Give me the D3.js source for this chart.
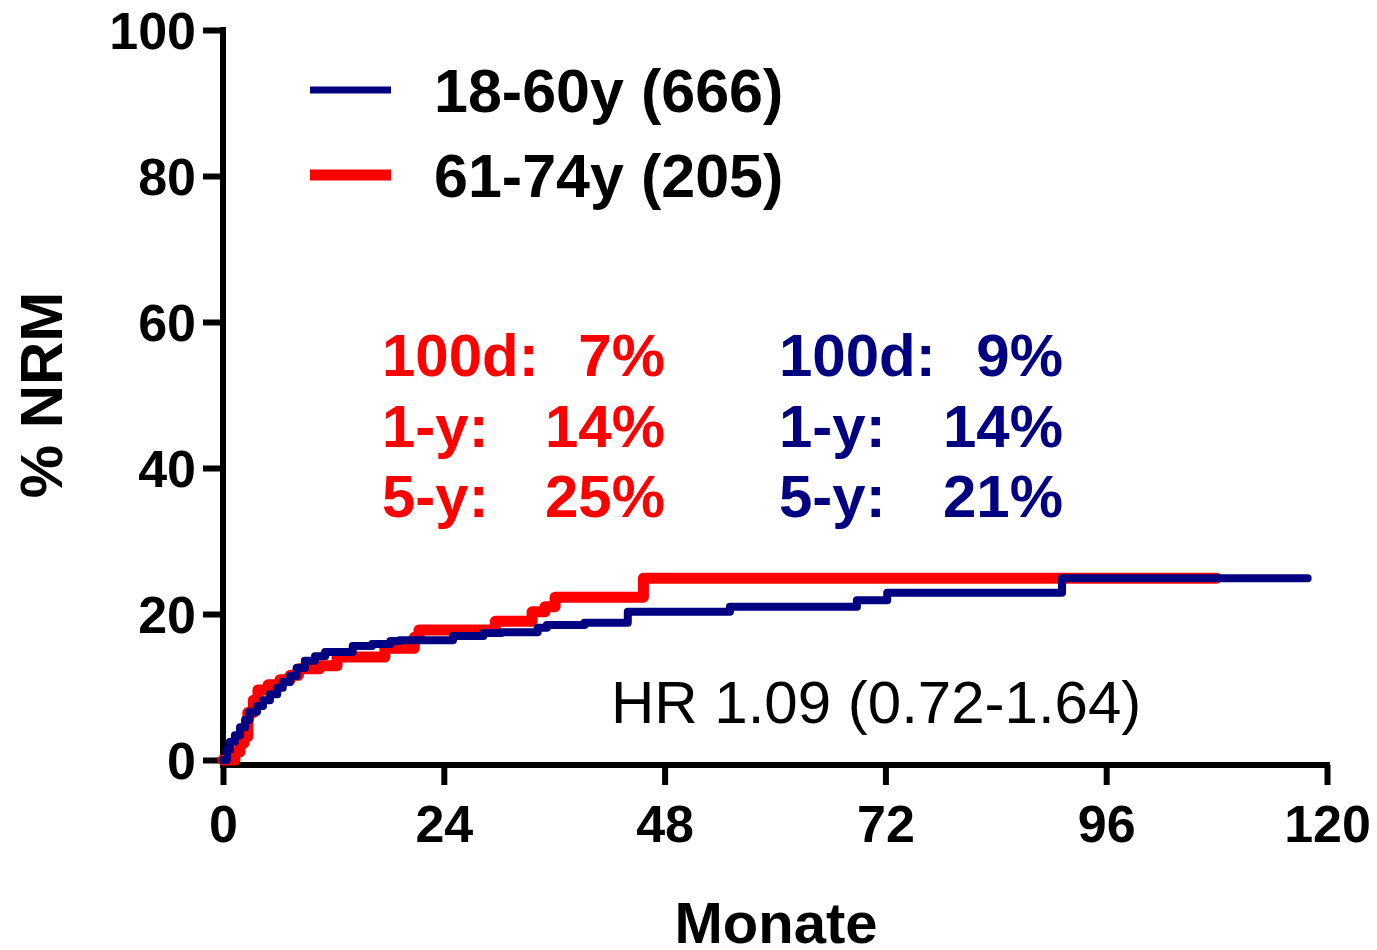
<!DOCTYPE html>
<html>
<head>
<meta charset="utf-8">
<script src="https://cdn.jsdelivr.net/npm/d3@7"></script>
<style>
  html, body { margin: 0; padding: 0; background: #fff; }
  svg { display: block; font-family: "Liberation Sans", Arial, sans-serif; }
</style>
</head>
<body>
<svg id="chart" width="1377" height="950"></svg>
<script>
// ---- data ----
const xTicks = [0, 24, 48, 72, 96, 120];
const yTicks = [0, 20, 40, 60, 80, 100];

// [month, cumulative NRM %] (step after)
const young = [
  [0, 0], [0.43, 1.4], [0.76, 2.5], [1.3, 3.4], [1.85, 4.5], [2.4, 5.5], [2.9, 6.6],
  [3.7, 7.4], [4.35, 8.2], [5.1, 9.0], [5.9, 9.9], [6.5, 10.7], [7.3, 11.5],
  [8.0, 12.6], [8.9, 13.6], [10.0, 14.2], [11.1, 14.8], [14.1, 15.6], [16.2, 15.9],
  [18.2, 16.3], [19.2, 16.4], [25.0, 17.0], [28.3, 17.4], [30.3, 17.5], [34.2, 18.1],
  [35.2, 18.5], [39.3, 18.8], [44.0, 20.3], [55.1, 21.0], [68.9, 21.9], [72.2, 22.9],
  [91.2, 24.9], [117.9, 24.9]
];
const old = [
  [0, 0], [1.3, 1.1], [1.85, 2.3], [2.3, 3.2], [2.7, 6.5], [3.3, 8.2], [3.8, 9.6],
  [4.9, 10.3], [6.2, 11.0], [7.3, 11.6], [8.2, 12.5], [10.5, 12.9], [12.4, 14.1],
  [17.6, 15.3], [20.8, 16.8], [21.3, 17.8], [29.6, 19.0], [33.6, 20.3], [35.0, 21.0],
  [36.1, 22.3], [45.7, 24.9], [108.0, 24.9]
];

const legendLabels = ["18-60y (666)", "61-74y (205)"];
const statLabels = ["100d:", "1-y:", "5-y:"];
const oldStats = ["7%", "14%", "25%"];
const youngStats = ["9%", "14%", "21%"];
const hrText = "HR 1.09 (0.72-1.64)";

const RED = "#ff0000", BLUE = "#000080";

// ---- chart ----
const svg = d3.select("#chart");
const x = d3.scaleLinear().domain([0, 120]).range([223, 1327]);
const y = d3.scaleLinear().domain([0, 100]).range([760, 30]);

// Y axis
const yAxis = d3.axisLeft(y).tickValues(yTicks).tickSize(20).tickPadding(7).tickSizeOuter(0);
const gy = svg.append("g").attr("transform", `translate(${x(0)},0)`).call(yAxis);
gy.select(".domain").remove();
gy.append("line").attr("x1", 0).attr("x2", 0).attr("y1", y(100) - 3).attr("y2", 768)
  .attr("stroke", "#000").attr("stroke-width", 6);
gy.selectAll(".tick line").attr("stroke", "#000").attr("stroke-width", 6);
gy.selectAll(".tick text").attr("font-size", 52).attr("font-weight", "bold").attr("fill", "#000")
  .attr("dy", "0.36em");

// X axis (offset slightly below y=0)
const xAxis = d3.axisBottom(x).tickValues(xTicks).tickSize(20).tickPadding(20).tickSizeOuter(0);
const gx = svg.append("g").attr("transform", `translate(0,765)`).call(xAxis);
gx.select(".domain").remove();
gx.append("line").attr("x1", x(0) - 3).attr("x2", x(120) + 3).attr("y1", 0).attr("y2", 0)
  .attr("stroke", "#000").attr("stroke-width", 6);
gx.selectAll(".tick line").attr("stroke", "#000").attr("stroke-width", 6);
gx.selectAll(".tick text").attr("font-size", 52).attr("font-weight", "bold").attr("fill", "#000");

// Axis titles
svg.append("text").attr("x", 776).attr("y", 943).attr("text-anchor", "middle")
  .attr("font-size", 58).attr("font-weight", "bold").text("Monate");
svg.append("text").attr("transform", "translate(62,395) rotate(-90)").attr("text-anchor", "middle")
  .attr("font-size", 60).attr("font-weight", "bold").text("% NRM");

// Curves
const line = d3.line().x(d => x(d[0])).y(d => y(d[1])).curve(d3.curveStepAfter);
svg.append("path").datum(old).attr("d", line).attr("fill", "none").attr("stroke", RED)
  .attr("stroke-width", 11).attr("stroke-linejoin", "round").attr("stroke-linecap", "round");
svg.append("path").datum(young).attr("d", line).attr("fill", "none").attr("stroke", BLUE)
  .attr("stroke-width", 8).attr("stroke-linejoin", "round").attr("stroke-linecap", "round");

// Legend
const legY = [90, 175];
const legColors = [BLUE, RED];
const legW = [7, 11];
legendLabels.forEach((t, i) => {
  svg.append("line").attr("x1", 310).attr("x2", 391).attr("y1", legY[i]).attr("y2", legY[i])
    .attr("stroke", legColors[i]).attr("stroke-width", legW[i]);
  svg.append("text").attr("x", 434).attr("y", legY[i] + 22).attr("font-size", 61)
    .attr("font-weight", "bold").attr("fill", "#000").text(t);
});

// Stats
const statY = [376, 447, 517];
statLabels.forEach((t, i) => {
  svg.append("text").attr("x", 382).attr("y", statY[i]).attr("font-size", 60).attr("font-weight", "bold")
    .attr("fill", RED).text(t);
  svg.append("text").attr("x", 665).attr("y", statY[i]).attr("text-anchor", "end").attr("font-size", 60)
    .attr("font-weight", "bold").attr("fill", RED).text(oldStats[i]);
  svg.append("text").attr("x", 779).attr("y", statY[i]).attr("font-size", 60).attr("font-weight", "bold")
    .attr("fill", BLUE).text(t);
  svg.append("text").attr("x", 1063).attr("y", statY[i]).attr("text-anchor", "end").attr("font-size", 60)
    .attr("font-weight", "bold").attr("fill", BLUE).text(youngStats[i]);
});

// HR
svg.append("text").attr("x", 611).attr("y", 723).attr("font-size", 60).attr("fill", "#000").text(hrText);
</script>
</body>
</html>
